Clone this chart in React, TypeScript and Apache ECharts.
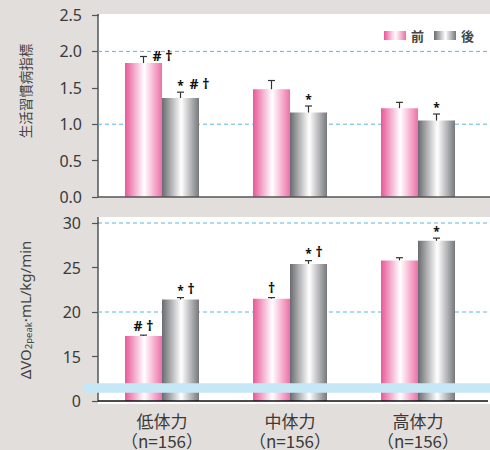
import React, { useEffect, useRef } from 'react';
import * as echarts from 'echarts';

// ---- data ----
const categories = ['低体力', '中体力', '高体力'];
const sampleSizes = [156, 156, 156];
const legendNames = ['前', '後'];

// upper panel: 生活習慣病指標
const habitBefore = [1.84, 1.48, 1.22];
const habitAfter = [1.36, 1.16, 1.05];
const habitBeforeErr = [0.09, 0.12, 0.08];
const habitAfterErr = [0.08, 0.09, 0.09];
const habitBeforeMarks = ['#†', '', ''];
const habitAfterMarks = ['*#†', '*', '*'];
const habitRefLines = [1.0, 2.0];
const habitMin = 0;
const habitMax = 2.5;
const habitStep = 0.5;

// lower panel: ΔVO2peak
const vo2Before = [17.3, 21.5, 25.8];
const vo2After = [21.4, 25.4, 28.0];
const vo2BeforeErr = [0.1, 0.12, 0.3];
const vo2AfterErr = [0.22, 0.37, 0.3];
const vo2BeforeMarks = ['#†', '†', ''];
const vo2AfterMarks = ['*†', '*†', '*'];
const vo2RefLines = [20, 30];
const vo2Min = 10; // axis is broken: this value is labelled "0"
const vo2Max = 30;
const vo2Step = 5;
const vo2BreakLabel = '0';

const FONT = '"Noto Sans", "Noto Sans CJK JP", sans-serif';
const CJK = '"Noto Sans CJK JP", "Noto Sans", sans-serif';
const BAR_W = 37;
const BG = '#e2dedb';

const grad = (a: string, b: string) =>
  new echarts.graphic.LinearGradient(0, 0, 1, 0, [
    { offset: 0, color: a },
    { offset: 0.52, color: '#ffffff' },
    { offset: 1, color: b },
  ]);

function refLineSeries(gi: number, lines: number[]) {
  return {
    type: 'custom',
    xAxisIndex: gi,
    yAxisIndex: gi,
    z: 1,
    silent: true,
    data: lines.map((v) => [0, v]),
    encode: { x: 0, y: 1 },
    renderItem: (params: any, api: any) => {
      const cs = params.coordSys;
      const y = api.coord([0, api.value(1)])[1];
      return {
        type: 'line',
        shape: { x1: cs.x, y1: y, x2: api.getWidth(), y2: y },
        style: { stroke: '#5bb6e6', lineWidth: 1, lineDash: [4, 3] },
      };
    },
  };
}

// baseline (x axis line) drawn through the axis scale, running past the grid to the right
function baseLineSeries(gi: number, base: number, color: string, extra: number) {
  return {
    type: 'custom',
    xAxisIndex: gi,
    yAxisIndex: gi,
    z: 4,
    silent: true,
    data: [[0, base]],
    encode: { x: 0, y: 1 },
    renderItem: (params: any, api: any) => {
      const cs = params.coordSys;
      const y = api.coord([0, api.value(1)])[1];
      return {
        type: 'line',
        shape: { x1: cs.x, y1: y, x2: cs.x + cs.width + extra, y2: y },
        style: { stroke: color, lineWidth: 1.5 },
      };
    },
  };
}

function errSeries(
  gi: number,
  values: number[],
  errs: number[],
  marks: string[],
  side: number,
  mode: 'side' | 'above'
) {
  return {
    type: 'custom',
    xAxisIndex: gi,
    yAxisIndex: gi,
    z: 5,
    silent: true,
    data: values.map((v, i) => [i, v, errs[i]]),
    encode: { x: 0, y: 1 },
    renderItem: (params: any, api: any) => {
      const i = api.value(0);
      const v = api.value(1);
      const e = api.value(2);
      const b = api.coord([i, v]);
      const t = api.coord([i, v + e]);
      const cx = b[0] + (side * BAR_W) / 2;
      const ty = t[1];
      const children: any[] = [
        { type: 'line', shape: { x1: cx, y1: b[1], x2: cx, y2: ty }, style: { stroke: '#333', lineWidth: 1.2 } },
        { type: 'line', shape: { x1: cx - 3.5, y1: ty, x2: cx + 3.5, y2: ty }, style: { stroke: '#333', lineWidth: 1.2 } },
      ];
      const m = marks[params.dataIndex] || '';
      const star = m.includes('*');
      const rest = m.replace('*', '').split('').join(' ');
      if (star) {
        children.push({
          type: 'text',
          x: cx,
          y: ty - 7,
          style: { text: '*', fontSize: 12, fontWeight: 'bold', fill: '#111', align: 'center', verticalAlign: 'middle', fontFamily: FONT },
        });
      }
      if (rest) {
        let x = cx;
        let y = ty - 9;
        let align = 'center';
        if (mode === 'side') {
          x = cx + 9;
          y = star ? ty - 9 : ty - 1;
          align = 'left';
        } else if (star) {
          x = cx + 7;
          align = 'left';
        } else {
          y = ty - 10;
        }
        children.push({
          type: 'text',
          x,
          y,
          style: { text: rest, fontSize: 14, fontWeight: 'bold', fill: '#111', align, verticalAlign: 'middle', fontFamily: FONT },
        });
      }
      return { type: 'group', children };
    },
  };
}

export default function App() {
  const ref = useRef<HTMLDivElement>(null);
  useEffect(() => {
    if (!ref.current) return;
    const chart = echarts.init(ref.current, undefined, { renderer: 'svg' });
    const pink = grad('#e9579a', '#ee70a8');
    const gray = grad('#6a6b6f', '#77787c');
    const labelStyle = { fontSize: 16, color: '#3a3a3a', fontFamily: FONT };

    chart.setOption({
      animation: false,
      backgroundColor: BG,
      textStyle: { fontFamily: FONT },
      legend: {
        data: legendNames,
        right: 11,
        top: 24,
        itemWidth: 22,
        itemHeight: 9,
        itemGap: 10,
        icon: 'rect',
        selectedMode: false,
        textStyle: { fontSize: 13, color: '#444', fontFamily: CJK, fontWeight: 'bold' },
      },
      grid: [
        { left: 98, top: 15, width: 384, height: 182 },
        { left: 98, top: 223, width: 384, height: 181 },
      ],
      xAxis: [
        {
          type: 'category',
          gridIndex: 0,
          data: categories,
          axisLine: { show: false },
          axisTick: { show: false },
          axisLabel: { show: false },
        },
        {
          type: 'category',
          gridIndex: 1,
          data: categories,
          axisLine: { show: false },
          axisTick: { show: false },
          axisLabel: {
            ...labelStyle,
            fontSize: 17,
            fontFamily: CJK,
            lineHeight: 20,
            margin: 9,
            formatter: (v: string, i: number) => `${v}\n（n=${sampleSizes[i]}）`,
          },
        },
      ],
      yAxis: [
        {
          type: 'value',
          gridIndex: 0,
          min: habitMin,
          max: habitMax,
          interval: habitStep,
          axisLine: { show: true, lineStyle: { color: '#555', width: 1.5 } },
          axisTick: { show: true, length: 6, lineStyle: { color: '#555', width: 1.2 } },
          splitLine: { show: false },
          axisLabel: { ...labelStyle, margin: 16, formatter: (v: number) => v.toFixed(1) },
        },
        {
          type: 'value',
          gridIndex: 1,
          min: vo2Min,
          max: vo2Max,
          interval: vo2Step,
          axisLine: { show: true, lineStyle: { color: '#555', width: 1.5 } },
          axisTick: { show: true, length: 6, lineStyle: { color: '#555', width: 1.2 } },
          splitLine: { show: false },
          axisLabel: { ...labelStyle, margin: 17, formatter: (v: number) => (v === vo2Min ? vo2BreakLabel : String(v)) },
        },
      ],
      series: [
        refLineSeries(0, habitRefLines),
        refLineSeries(1, vo2RefLines),
        { type: 'bar', name: legendNames[0], xAxisIndex: 0, yAxisIndex: 0, data: habitBefore, barWidth: BAR_W, barGap: '0%', itemStyle: { color: pink }, z: 2 },
        { type: 'bar', name: legendNames[1], xAxisIndex: 0, yAxisIndex: 0, data: habitAfter, barWidth: BAR_W, barGap: '0%', itemStyle: { color: gray }, z: 2 },
        { type: 'bar', name: legendNames[0], xAxisIndex: 1, yAxisIndex: 1, data: vo2Before, barWidth: BAR_W, barGap: '0%', itemStyle: { color: pink }, z: 2 },
        { type: 'bar', name: legendNames[1], xAxisIndex: 1, yAxisIndex: 1, data: vo2After, barWidth: BAR_W, barGap: '0%', itemStyle: { color: gray }, z: 2 },
        baseLineSeries(0, habitMin, '#555', 8),
        baseLineSeries(1, vo2Min, '#111', 6),
        errSeries(0, habitBefore, habitBeforeErr, habitBeforeMarks, -1, 'side'),
        errSeries(0, habitAfter, habitAfterErr, habitAfterMarks, 1, 'side'),
        errSeries(1, vo2Before, vo2BeforeErr, vo2BeforeMarks, -1, 'above'),
        errSeries(1, vo2After, vo2AfterErr, vo2AfterMarks, 1, 'above'),
      ],
      graphic: [
        { type: 'rect', z: -1, silent: true, shape: { x: 98, y: 14, width: 392, height: 183 }, style: { fill: '#ffffff' } },
        { type: 'rect', z: -1, silent: true, shape: { x: 98, y: 217, width: 392, height: 187 }, style: { fill: '#ffffff' } },
        { type: 'line', z: 3, silent: true, shape: { x1: 98, y1: 217, x2: 98, y2: 224 }, style: { stroke: '#555', lineWidth: 1.5 } },
        { type: 'line', z: 3, silent: true, shape: { x1: 98, y1: 14, x2: 98, y2: 16 }, style: { stroke: '#555', lineWidth: 1.5 } },
        { type: 'rect', z: 100, silent: true, shape: { x: 84, y: 383.3, width: 406, height: 9.4 }, style: { fill: '#c6e7f6' } },
        {
          type: 'text',
          z: 10,
          x: 25,
          y: 91,
          rotation: Math.PI / 2,
          style: { text: '生活習慣病指標', fontSize: 13.5, fill: '#444', align: 'center', verticalAlign: 'middle', fontFamily: CJK },
        },
        {
          type: 'text',
          z: 10,
          x: 25,
          y: 310,
          rotation: Math.PI / 2,
          style: {
            text: '{a|ΔVO}{s|2peak}{a|·mL/kg/min}',
            align: 'center',
            verticalAlign: 'middle',
            rich: {
              a: { fontSize: 15, fill: '#444', fontFamily: FONT, lineHeight: 18 },
              s: { fontSize: 9.5, fill: '#444', fontFamily: FONT, lineHeight: 18, padding: [6, 0, 0, 0] },
            },
          },
        },
      ],
    });
    return () => chart.dispose();
  }, []);
  return <div ref={ref} style={{ position: 'absolute', left: 0, top: 0, width: 490, height: 450 }} />;
}
